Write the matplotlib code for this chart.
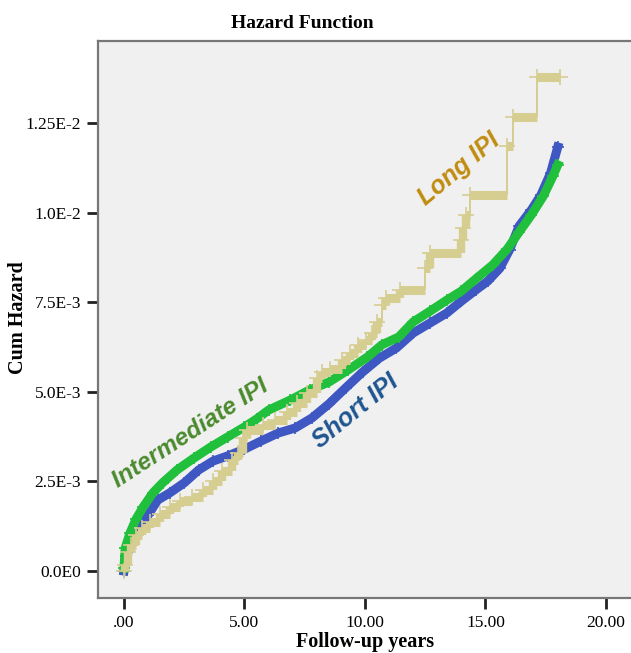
import matplotlib
matplotlib.use("Agg")
import matplotlib.pyplot as plt
import numpy as np

# cumulative hazard (years, cum hazard)
short_t = [0.0, 0.1, 0.3, 0.6, 1.0, 1.4, 1.9, 2.5, 3.1, 3.7, 4.3, 5.0, 5.7, 6.4,
           7.1, 7.8, 8.5, 9.2, 9.9, 10.6, 11.3, 12.0, 12.7, 13.4, 14.0, 14.6,
           15.1, 15.6, 16.0, 16.4, 16.9, 17.3, 17.7, 18.0]
short_h = [0.0, 0.00042, 0.00073, 0.00114, 0.00156, 0.00198, 0.00218, 0.00246,
           0.00282, 0.00307, 0.00321, 0.00340, 0.00363, 0.00385, 0.00399,
           0.00427, 0.00466, 0.00511, 0.00555, 0.00594, 0.00622, 0.00664,
           0.00692, 0.00720, 0.00753, 0.00784, 0.00809, 0.00845, 0.00896,
           0.00963, 0.01007, 0.01049, 0.01110, 0.01183]

inter_t = [0.0, 0.05, 0.25, 0.5, 0.8, 1.2, 1.6, 2.2, 2.9, 3.6, 4.3, 5.0, 5.5, 6.0,
           6.9, 7.7, 8.5, 9.3, 10.1, 10.7, 11.4, 12.0, 12.7, 13.4, 14.0, 14.6,
           15.3, 15.9, 16.4, 16.9, 17.4, 17.8, 18.0]
inter_h = [0.00008, 0.00064, 0.00106, 0.00145, 0.00179, 0.00218, 0.00246,
           0.00282, 0.00315, 0.00346, 0.00374, 0.00402, 0.00424, 0.00449,
           0.00477, 0.00505, 0.00527, 0.00561, 0.00597, 0.00631, 0.00653,
           0.00695, 0.00725, 0.00756, 0.00781, 0.00815, 0.00854, 0.00898,
           0.00946, 0.00993, 0.01046, 0.01102, 0.01133]

long_t = [0.0, 0.04, 0.17, 0.29, 0.50, 0.75, 1.08, 1.49, 1.91, 2.32, 2.82, 3.28,
          3.69, 4.07, 4.48, 4.73, 4.94, 5.10, 5.77, 6.27, 6.76, 7.18, 7.59, 8.01,
          8.22, 8.55, 9.05, 9.38, 9.71, 10.04, 10.29, 10.50, 10.71, 10.87, 11.45,
          12.49, 12.70, 13.98, 14.07, 14.19, 14.36, 15.89, 16.14, 17.14, 18.09]
long_h = [0.0, 0.00017, 0.00053, 0.00073, 0.00100, 0.00120, 0.00137, 0.00159,
          0.00179, 0.00195, 0.00206, 0.00226, 0.00251, 0.00279, 0.00310,
          0.00329, 0.00371, 0.00393, 0.00407, 0.00421, 0.00444, 0.00469,
          0.00497, 0.00539, 0.00555, 0.00564, 0.00589, 0.00608, 0.00631,
          0.00645, 0.00664, 0.00695, 0.00742, 0.00762, 0.00784, 0.00845,
          0.00887, 0.00924, 0.00957, 0.00993, 0.01049, 0.01186, 0.01267,
          0.01378, 0.01378]

x_ticks = [0, 5, 10, 15, 20]
x_labels = ['.00', '5.00', '10.00', '15.00', '20.00']
y_ticks = [0, 0.0025, 0.005, 0.0075, 0.01, 0.0125]
y_labels = ['0.0E0', '2.5E-3', '5.0E-3', '7.5E-3', '1.0E-2', '1.25E-2']

serif = 'Liberation Serif'
sans = 'Liberation Sans'

fig = plt.figure(figsize=(6.31, 6.53), dpi=100)
ax = fig.add_axes([98 / 631, 55 / 653, 533 / 631, 557 / 653])
ax.set_facecolor('#f0f0f0')
ax.set_xlim(-1.079, 21.04)
ax.set_ylim(-0.000753, 0.014788)


def smooth_band(t, h, color, z):
    ax.plot(t, h, color=color, lw=6.5, solid_joinstyle='miter', zorder=z)
    ax.plot(t, h, '+', color=color, ms=9, mew=1.2, zorder=z)


def step_band(t, h, color, z):
    t = np.array(t)
    h = np.array(h)
    ax.hlines(h[:-1], t[:-1], t[1:], color=color, lw=6.5, zorder=z)
    rise = h[1:] - h[:-1]
    small = rise < 0.00045
    # small jumps blend into the band, big jumps are thin risers
    ax.vlines(t[1:][small], h[:-1][small], h[1:][small], color=color,
              lw=6, zorder=z)
    ax.vlines(t[1:][~small], h[:-1][~small], h[1:][~small], color=color,
              lw=1.4, zorder=z)
    ax.plot(t, h, '+', color=color, ms=11, mew=1.2, zorder=z)


smooth_band(short_t, short_h, '#3f57c2', 2)
smooth_band(inter_t, inter_h, '#20c03c', 3)
step_band(long_t, long_h, '#d6cd90', 4)

ax.text(13.9, 0.0112, 'Long IPI', color='#c08c10', fontsize=18,
        family=sans, weight='bold', style='italic', rotation=40,
        ha='center', va='center', zorder=6)
ax.text(2.75, 0.00385, 'Intermediate IPI', color='#4b8a2e', fontsize=17.5,
        family=sans, weight='bold', style='italic', rotation=33,
        ha='center', va='center', zorder=6)
ax.text(9.6, 0.00445, 'Short IPI', color='#1f5590', fontsize=18,
        family=sans, weight='bold', style='italic', rotation=39,
        ha='center', va='center', zorder=6)

ax.set_xticks(x_ticks)
ax.set_xticklabels(x_labels, family=serif, fontsize=12.5)
ax.set_yticks(y_ticks)
ax.set_yticklabels(y_labels, family=serif, fontsize=12.5)
ax.tick_params(direction='out', length=8, width=2, color='#222222', pad=4)

for s in ['left', 'bottom', 'top']:
    ax.spines[s].set_color('#777777')
    ax.spines[s].set_linewidth(1.6)
ax.spines['right'].set_visible(False)

fig.text(302 / 631, 1 - 24 / 653, 'Hazard Function', family=serif,
         weight='bold', fontsize=14, ha='center', va='center')
fig.text(365 / 631, 1 - 642 / 653, 'Follow-up years', family=serif,
         weight='bold', fontsize=14.5, ha='center', va='center')
fig.text(18 / 631, 1 - 318 / 653, 'Cum Hazard', family=serif,
         weight='bold', fontsize=14.5, ha='center', va='center', rotation=90)

fig.savefig('out.png', dpi=100)
